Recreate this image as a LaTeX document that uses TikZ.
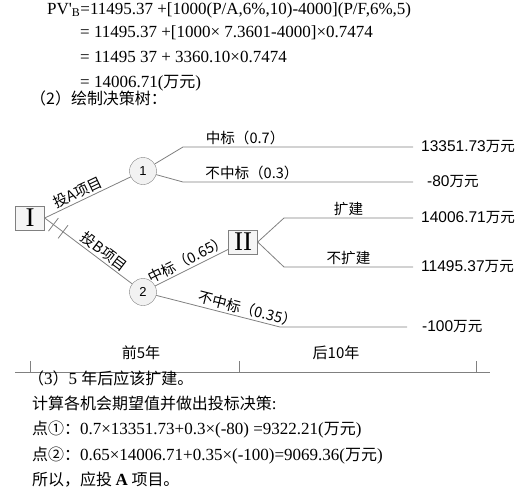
\documentclass[tikz,border=0pt]{standalone}
\usepackage{fontspec}
\setmainfont{Liberation Serif}
\newfontfamily\cjk[Scale=0.94]{Noto Sans CJK SC}
\newfontfamily\arialfont{Liberation Sans}
\usetikzlibrary{positioning}

\newcommand{\zh}[1]{{\cjk #1}}
\newcommand{\wan}[1]{{\arialfont #1}{\cjk 万元}}

\begin{document}
\begin{tikzpicture}[
  x=1pt, y=-1pt,
  line/.style={draw=gray, line width=0.8pt},
  decision/.style={draw=gray, fill=gray!8, minimum width=29pt, minimum height=24pt, inner sep=0pt, font=\fontsize{27}{27}\selectfont},
  chance/.style={circle, draw=gray, fill=gray!10, minimum size=27pt, inner sep=0pt, font=\arialfont\fontsize{13}{13}\selectfont},
  lbl/.style={font=\cjk\fontsize{15.5}{15.5}\selectfont, inner sep=2pt},
  payoff/.style={anchor=west, inner xsep=8pt, inner ysep=0pt, font=\fontsize{15.5}{15.5}\selectfont},
  period/.style={font=\cjk\fontsize{16}{16}\selectfont, inner sep=0pt},
  txt/.style={anchor=base west, inner sep=0pt, font=\fontsize{17}{17}\selectfont},
  cutmark/.style={sloped, inner sep=0pt, minimum width=0pt, minimum height=16pt}
]
\useasboundingbox (0,0) rectangle (531,493);

% calculation above the tree
\node[txt] (l1) at (47,14) {PV\textquotesingle\textsubscript{B}=11495.37 +[1000(P/A,6\%,10)-4000](P/F,6\%,5)};
\node[txt] (l2) at (80,37) {= 11495.37 +[1000× 7.3601-4000]×0.7474};
\node[txt] (l3) at (80,62) {= 11495 37 + 3360.10×0.7474};
\node[txt] (l4) at (80,87) {= 14006.71(\zh{万元})};
\node[txt] (l5) at (30,104) {\zh{（2）绘制决策树：}};

% decision tree
\node[decision] (bI) at (30,218) {I};
\node[chance] (c1) at (143,171) {1};
\node[chance] (c2) at (143,292) {2};
\node[decision] (bII) at (243,242) {II};

\coordinate (k1) at (183,147);
\coordinate (k2) at (183,182);
\coordinate (k3) at (284,218);
\coordinate (k4) at (284,267);
\coordinate (k5) at (280,327);

\node[payoff] (v1) at (413,147) {\wan{13351.73}};
\node[payoff, inner xsep=14pt] (v2) at (413,182) {\wan{-80}};
\node[payoff] (v3) at (413,218) {\wan{14006.71}};
\node[payoff] (v4) at (413,267) {\wan{11495.37}};
\node[payoff, inner xsep=15pt] (v5) at (407,327) {\wan{-100}};

\draw[line] (bI.east) -- node[lbl, sloped, above, pos=0.43] (la) {投A项目} (c1);
\draw[line] (bI.east) -- node[lbl, sloped, above, pos=0.62] (lb) {投B项目} (c2);
\path (bI.east) -- (c2) node[cutmark, pos=0.1] (m1) {} node[cutmark, pos=0.21] (m2) {};
\draw[line] (m1.north) -- (m1.south);
\draw[line] (m2.north) -- (m2.south);

\draw[line] (c1) -- (k1) -- node[lbl, above, pos=0.27] (p07) {中标（0.7）} (v1.west);
\draw[line] (c1) -- (k2) -- node[lbl, above, pos=0.3] (p03) {不中标（0.3）} (v2.west);
\draw[line] (c2) -- node[lbl, sloped, above, pos=0.5] (p065) {中标（0.65）} (bII);
\draw[line] (c2) -- node[lbl, sloped, above, pos=0.72] (p035) {不中标（0.35）} (k5) -- (v5.west);
\draw[line] (bII.east) -- (k3) -- node[lbl, above, pos=0.5] (ext) {扩建} (v3.west);
\draw[line] (bII.east) -- (k4) -- node[lbl, above, pos=0.5] (noext) {不扩建} (v4.west);

% time axis
\coordinate (t0) at (15,372);
\coordinate (t1) at (490,372);
\draw[line] (t0) -- (t1);
\foreach \x in {30,239,476}
  \draw[line] (\x,361) -- (\x,372);
\node[period] (y5) at (141,353) {前5年};
\node[period] (y10) at (336,353) {后10年};

% conclusion
\node[txt] (s1) at (28,384) {\zh{（}3\zh{）}5 \zh{年后应该扩建。}};
\node[txt] (s2) at (32,409) {\zh{计算各机会期望值并做出投标决策}:};
\node[txt] (s3) at (32,434) {\zh{点①：}0.7×13351.73+0.3×(-80) =9322.21(\zh{万元})};
\node[txt] (s4) at (32,460) {\zh{点②：}0.65×14006.71+0.35×(-100)=9069.36(\zh{万元})};
\node[txt] (s5) at (32,485) {\zh{所以，应投 }\textbf{A}\zh{ 项目。}};
\end{tikzpicture}
\end{document}
